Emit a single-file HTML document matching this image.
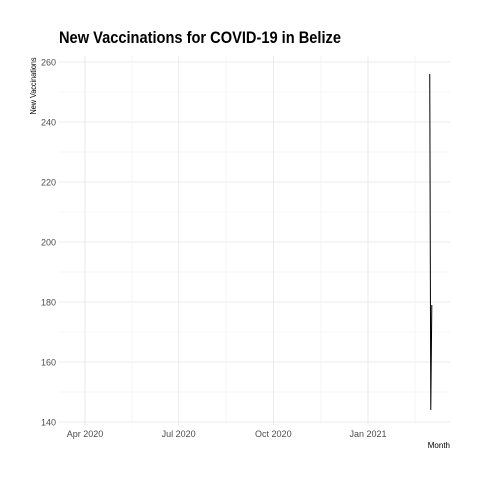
<!DOCTYPE html>
<html><head><meta charset="utf-8"><style>
body{margin:0;background:#fff;font-family:"Liberation Sans",sans-serif}
text{font-family:"Liberation Sans",sans-serif}
</style></head><body>
<svg id="chart" width="480" height="480" xmlns="http://www.w3.org/2000/svg">
<rect width="480" height="480" fill="#fff"/>
<text x="59" y="43" font-size="17" font-weight="bold" fill="#000" textLength="282" lengthAdjust="spacingAndGlyphs">New Vaccinations for COVID-19 in Belize</text>
<text transform="translate(36,86) rotate(-90)" text-anchor="middle" font-size="8" fill="#000" textLength="57" lengthAdjust="spacingAndGlyphs">New Vaccinations</text>
<text x="450" y="448" text-anchor="end" font-size="8" fill="#000">Month</text>
<g id="grid"></g><g id="axes"></g><g id="series"></g>
</svg>
<script>
const xTickLabels=["Apr 2020","Jul 2020","Oct 2020","Jan 2021"];
const xTickDates=["2020-04-01","2020-07-01","2020-10-01","2021-01-01"];
const yTicks=[140,160,180,200,220,240,260];
const dates=["2021-03-02","2021-03-03","2021-03-04"];
const values=[256,144,179];
const NS="http://www.w3.org/2000/svg";
const x0=59,x1=450,y0=56,y1=425;
const d0=Date.parse("2020-04-01"),d1=Date.parse("2021-01-01");
function xs(d){return 85+(Date.parse(d)-d0)/(d1-d0)*(368-85);}
function ys(v){return 422-(v-140)*3;}
function el(t,a,p){const e=document.createElementNS(NS,t);for(const k in a)e.setAttribute(k,a[k]);p.appendChild(e);return e;}
const grid=document.getElementById('grid'),axes=document.getElementById('axes'),ser=document.getElementById('series');
yTicks.forEach((v,i)=>{
 const g=el('line',{x1:x0,x2:x1,y1:ys(v),y2:ys(v),stroke:'#e5e5e5','stroke-width':0.8},grid);
 
 
 if(i<yTicks.length-1){const m=el('line',{x1:x0,x2:x1,y1:ys(v+10),y2:ys(v+10),stroke:'#f0f0f0','stroke-width':0.6},grid);
 
 }
 const t=el('text',{x:56,y:ys(v)+3.5,'text-anchor':'end','font-size':9,fill:'#4d4d4d'},axes);t.textContent=v;
 
 
});
xTickDates.forEach((d,i)=>{
 const x=xs(d);
 const g=el('line',{x1:x,x2:x,y1:y0,y2:y1,stroke:'#e5e5e5','stroke-width':0.8},grid);
 
 
 const t=el('text',{x:x,y:437,'text-anchor':'middle','font-size':9,fill:'#4d4d4d'},axes);t.textContent=xTickLabels[i];
 
 
});
[132,226,321,415].forEach(x=>{const m=el('line',{x1:x,x2:x,y1:y0,y2:y1,stroke:'#f0f0f0','stroke-width':0.6},grid);
 
 });
const p=el('polyline',{points:dates.map((d,i)=>xs(d)+','+ys(values[i])).join(' '),fill:'none',stroke:'#000','stroke-width':1},ser);


</script>
</body></html>
